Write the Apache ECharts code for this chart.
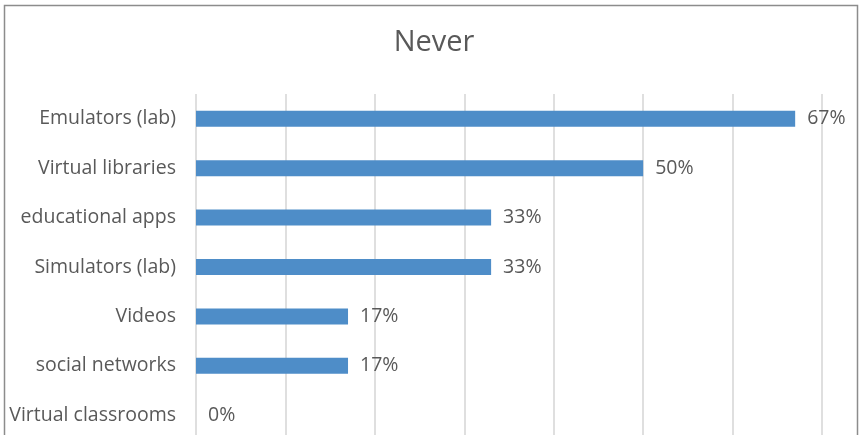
<!DOCTYPE html>
<html>
<head>
<meta charset="utf-8">
<script src="https://cdn.jsdelivr.net/npm/echarts@6/dist/echarts.min.js"></script>
<style>
  html, body { margin: 0; padding: 0; background: #fff; overflow: hidden; }
  #chart { width: 868px; height: 440px; }
</style>
</head>
<body>
<div id="chart"></div>
<script>
// Share of respondents answering "Never", per resource (top to bottom)
const categories = [
  'Emulators (lab)',
  'Virtual libraries',
  'educational apps',
  'Simulators (lab)',
  'Videos',
  'social networks',
  'Virtual classrooms'
];
const values = [0.67, 0.50, 0.33, 0.33, 0.17, 0.17, 0];
const chartTitle = 'Never';

const font = '"Open Sans", Lato, sans-serif';
const chart = echarts.init(document.getElementById('chart'), null, { renderer: 'canvas' });

chart.setOption({
  animation: false,
  backgroundColor: '#ffffff',
  title: {
    text: chartTitle,
    left: 'center',
    top: 23,
    textStyle: { fontFamily: font, fontSize: 29, fontWeight: 'normal', color: '#595959' }
  },
  graphic: [{
    type: 'rect',
    shape: { x: 4.5, y: 5.5, width: 853, height: 445 },
    style: { fill: 'none', stroke: '#8c8c8c', lineWidth: 1.5 },
    silent: true
  }],
  grid: { left: 196, right: 46, top: 94, bottom: 0, containLabel: false },
  xAxis: {
    type: 'value',
    min: 0,
    max: 0.7,
    interval: 0.1,
    axisLabel: { show: false },
    axisLine: { show: false },
    axisTick: { show: false },
    splitLine: { show: true, lineStyle: { color: '#d4d4d4', width: 1.5 } }
  },
  yAxis: {
    type: 'category',
    inverse: true,
    data: categories,
    axisLine: { show: false },
    axisTick: { show: false },
    axisLabel: { margin: 20, fontFamily: font, fontSize: 19.5, color: '#595959' }
  },
  series: [{
    type: 'bar',
    data: values,
    barWidth: 16,
    itemStyle: { color: '#4e8dc8' },
    label: {
      show: true,
      position: 'right',
      distance: 12,
      fontFamily: font,
      fontSize: 19.5,
      color: '#595959',
      formatter: p => Math.round(p.value * 100) + '%'
    }
  }]
});
</script>
</body>
</html>
